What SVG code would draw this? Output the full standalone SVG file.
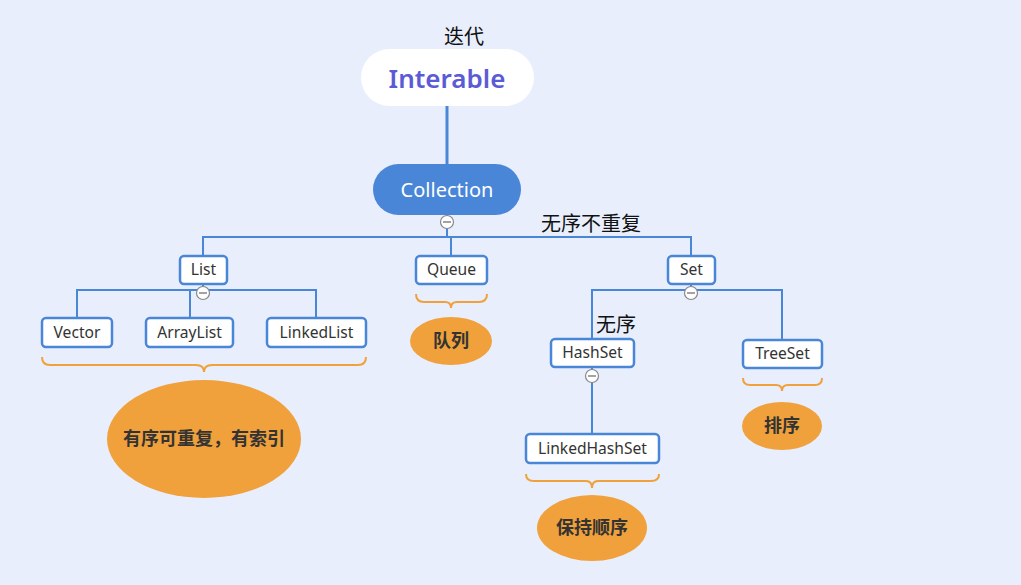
<svg xmlns="http://www.w3.org/2000/svg" width="1021" height="585" viewBox="0 0 1021 585">
<style>
.bg{fill:#e8eefc}
.ln{stroke:#4a86d8;stroke-width:2;fill:none}
.box{fill:#ffffff;stroke:#4a86d8;stroke-width:2.5}
.t{font-family:"Noto Sans","Noto Sans CJK SC",sans-serif;font-size:15.6px;fill:#333;text-anchor:middle}
.lab{font-family:"Noto Sans CJK SC","Noto Sans",sans-serif;font-size:20px;fill:#111}
.brace{stroke:#f0a13b;stroke-width:2;fill:none}
.ell{fill:#f0a13b}
.et{font-family:"Noto Sans CJK SC",sans-serif;font-size:18px;font-weight:bold;fill:#333;text-anchor:middle}
.col{fill:#ffffff;stroke:#888;stroke-width:1.2}
.colm{stroke:#666;stroke-width:1.2}
</style>
<rect class="bg" x="0" y="0" width="1021" height="585"/>
<g id="connectors">
  <line x1="447" y1="106" x2="447" y2="164" stroke="#4a86d8" stroke-width="3"/>
  <path class="ln" d="M447 215 V237 M203 256 V237 H691 V256 M451 237 V256"/>
  <path class="ln" d="M203 284 V290 M77 319 V290 H316 V319 M190 290 V319"/>
  <path class="ln" d="M691 284 V290 M592 339 V290 H782 V340"/>
  <path class="ln" d="M592 367 V434"/>
</g>
<g id="collapsers">
  <circle class="col" cx="447" cy="222" r="6.5"/><line class="colm" x1="443" y1="222" x2="451" y2="222"/>
  <circle class="col" cx="203" cy="293" r="6.5"/><line class="colm" x1="199" y1="293" x2="207" y2="293"/>
  <circle class="col" cx="691" cy="293" r="6.5"/><line class="colm" x1="687" y1="293" x2="695" y2="293"/>
  <circle class="col" cx="592" cy="376" r="6.5"/><line class="colm" x1="588" y1="376" x2="596" y2="376"/>
</g>
<g id="interable">
  <rect x="361" y="49" width="173" height="57" rx="28.5" fill="#ffffff"/>
  <text x="447" y="88" font-family="'Noto Sans',sans-serif" font-size="26" font-weight="600" fill="#5b5bd6" text-anchor="middle">Interable</text>
  <text class="lab" x="464" y="44" text-anchor="middle">迭代</text>
</g>
<g id="collection">
  <rect x="373" y="164" width="148" height="51" rx="25.5" fill="#4a86d8"/>
  <text x="447" y="197" font-family="'Noto Sans',sans-serif" font-size="20" fill="#ffffff" text-anchor="middle">Collection</text>
  <text class="lab" x="591" y="231" text-anchor="middle">无序不重复</text>
</g>
<g id="list">
  <rect class="box" x="180" y="256" width="47" height="28" rx="4"/>
  <text class="t" x="203.5" y="275">List</text>
</g>
<g id="queue">
  <rect class="box" x="416" y="256" width="71" height="28" rx="4"/>
  <text class="t" x="451.5" y="275">Queue</text>
</g>
<g id="set">
  <rect class="box" x="668" y="256" width="47" height="28" rx="4"/>
  <text class="t" x="691.5" y="275">Set</text>
</g>
<g id="vector">
  <rect class="box" x="42" y="318" width="70" height="29" rx="4"/>
  <text class="t" x="77" y="338">Vector</text>
</g>
<g id="arraylist">
  <rect class="box" x="146" y="318" width="87" height="29" rx="4"/>
  <text class="t" x="189.5" y="338">ArrayList</text>
</g>
<g id="linkedlist">
  <rect class="box" x="267" y="318" width="99" height="29" rx="4"/>
  <text class="t" x="316.5" y="338">LinkedList</text>
</g>
<g id="hashset">
  <rect class="box" x="551" y="339" width="83" height="28" rx="4"/>
  <text class="t" x="592.5" y="358">HashSet</text>
  <text class="lab" x="616" y="332" text-anchor="middle">无序</text>
</g>
<g id="treeset">
  <rect class="box" x="743" y="340" width="79" height="28" rx="4"/>
  <text class="t" x="782.5" y="359">TreeSet</text>
</g>
<g id="linkedhashset">
  <rect class="box" x="526" y="434" width="133" height="29" rx="4"/>
  <text class="t" x="592.5" y="454">LinkedHashSet</text>
</g>
<g id="note-list">
  <path class="brace" d="M42 357 Q42 365 50 365 H196 Q204 365 204 372 Q204 365 212 365 H358 Q366 365 366 357"/>
  <ellipse class="ell" cx="204" cy="439" rx="97" ry="59"/>
  <text class="et" x="204" y="445">有序可重复，有索引</text>
</g>
<g id="note-queue">
  <path class="brace" d="M416 294 Q416 302 424 302 H445 Q451 302 451 308 Q451 302 457 302 H479 Q487 302 487 294"/>
  <ellipse class="ell" cx="451" cy="341" rx="41" ry="24"/>
  <text class="et" x="451" y="347">队列</text>
</g>
<g id="note-treeset">
  <path class="brace" d="M743 378 Q743 385 750 385 H776 Q782 385 782 391 Q782 385 788 385 H815 Q822 385 822 378"/>
  <ellipse class="ell" cx="782" cy="426" rx="40" ry="24"/>
  <text class="et" x="782" y="432">排序</text>
</g>
<g id="note-linkedhashset">
  <path class="brace" d="M526 474 Q526 481 534 481 H586 Q592 481 592 488 Q592 481 598 481 H651 Q659 481 659 474"/>
  <ellipse class="ell" cx="592" cy="528" rx="55" ry="33"/>
  <text class="et" x="592" y="534">保持顺序</text>
</g>
</svg>
